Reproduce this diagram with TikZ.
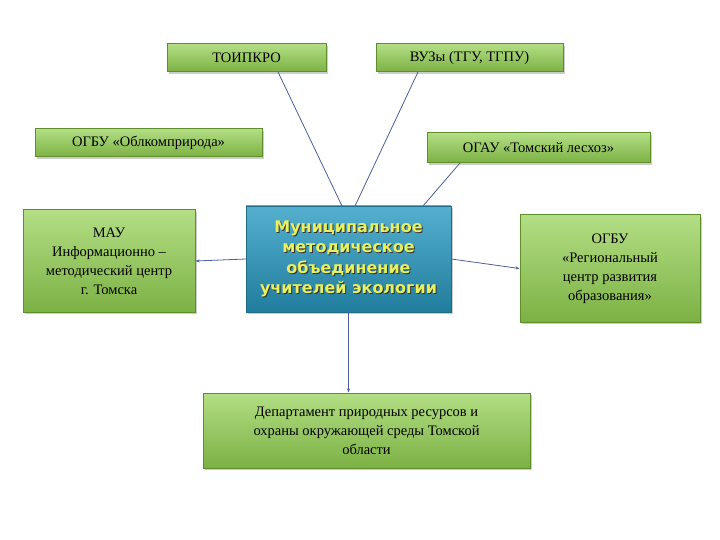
\documentclass[tikz,border=0pt]{standalone}
\usepackage{fontspec}
\setmainfont{Liberation Serif}
\newfontfamily\ctrfont{DejaVu Sans}
\usetikzlibrary{shadows,arrows.meta}
\definecolor{boxg}{HTML}{92D050}
\definecolor{boxd}{HTML}{5E8F2A}
\definecolor{ctrb}{HTML}{2A9CC4}
\definecolor{lineb}{HTML}{4A5F9A}
\definecolor{ytxt}{HTML}{E8F060}
\tikzset{
 gbox/.style={draw=boxd, line width=1pt, top color=boxg!70!white, bottom color=boxg!85!black, drop shadow={opacity=0.4, shadow xshift=2pt, shadow yshift=-2pt}, align=center, font=\fontsize{14.5}{19}\selectfont, inner sep=0pt},
 cbox/.style={draw=ctrb!70!black, top color=ctrb!80!white, bottom color=ctrb!80!black, drop shadow={opacity=0.4}, inner sep=0pt},
 conn/.style={draw=lineb, line width=0.8pt},
 arr/.style={conn, -{Stealth[length=4pt,width=3pt]}}
}
\begin{document}
\begin{tikzpicture}[x=1pt,y=-1pt]
\useasboundingbox (0,0) rectangle (720,540);
\node[gbox, minimum width=159pt, minimum height=28pt] (toi) at (246.5,58) {ТОИПКРО};
\node[gbox, minimum width=187pt, minimum height=28pt] (vuz) at (469.5,58) {ВУЗы (ТГУ, ТГПУ)};
\node[gbox, minimum width=227pt, minimum height=28pt] (obl) at (148.5,143) {ОГБУ «Облкомприрода»};
\node[gbox, minimum width=223pt, minimum height=30pt] (ogau) at (538.5,148) {ОГАУ «Томский лесхоз»};
\node[gbox, minimum width=172pt, minimum height=102pt] (mau) at (109,261) {МАУ\\Информационно –\\методический центр\\г. Томска};
\node[gbox, minimum width=180pt, minimum height=107pt] (ogbu) at (610,268.5) {ОГБУ\\«Региональный\\центр развития\\образования»};
\node[gbox, minimum width=327pt, minimum height=75pt] (dep) at (366.5,430.5) {Департамент природных ресурсов и\\охраны окружающей среды Томской\\области};
\node[cbox, minimum width=205pt, minimum height=106pt] (ctr) at (348.5,259) {};
\node[align=center, font=\ctrfont\bfseries\fontsize{16}{20.5}\selectfont, text=black!80, inner sep=0pt] (ctrsh) at (349.5,260) {Муниципальное\\методическое\\объединение\\учителей экологии};
\node[align=center, font=\ctrfont\bfseries\fontsize{16}{20.5}\selectfont, text=ytxt, inner sep=0pt] (ctrt) at (348.5,259) {Муниципальное\\методическое\\объединение\\учителей экологии};
\coordinate (t1) at (278,72);
\coordinate (v1) at (418,72);
\coordinate (o1) at (460,163);
\coordinate (c1) at (342,206);
\coordinate (c2) at (355,206);
\coordinate (c3) at (423,206);
\draw[conn] (t1) -- (c1);
\draw[conn] (v1) -- (c2);
\draw[conn] (o1) -- (c3);
\draw[arr] (ctr.west) -- (mau.east);
\draw[arr] (ctr.east) -- (ogbu.west);
\draw[arr] (ctr.south) -- (dep.north -| ctr.south);
\end{tikzpicture}
\end{document}
